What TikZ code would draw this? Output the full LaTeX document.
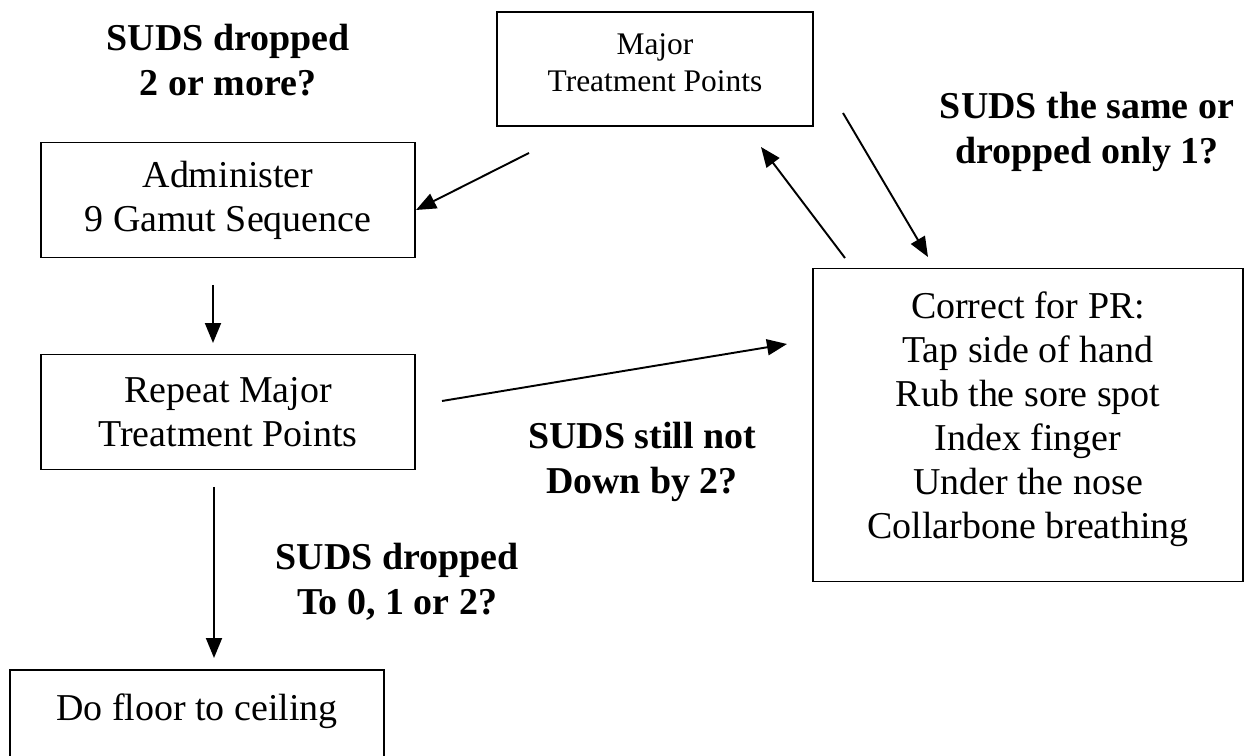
\documentclass[tikz,border=0pt]{standalone}
\usepackage{fontspec}
\setmainfont{Liberation Serif}
\usetikzlibrary{arrows.meta,positioning,calc}

\begin{document}
\begin{tikzpicture}[
    x=0.02cm, y=-0.02cm,
    box/.style={rectangle, draw=black, line width=1pt, align=center, inner sep=0pt, font=\fontsize{21.6pt}{25pt}\selectfont},
    smallbox/.style={box, font=\fontsize{17.9pt}{21pt}\selectfont},
    cond/.style={align=center, inner sep=0pt, font=\bfseries\fontsize{21.6pt}{25.6pt}\selectfont},
    arr/.style={-{Triangle[length=0.4cm, width=0.32cm]}, line width=1.1pt}
]
    \useasboundingbox (0,0) rectangle (1248,756);

    % boxes
    \node [smallbox, minimum width=6.32cm, minimum height=2.28cm, text depth=0.26cm] (major) at (655,69) {Major\\Treatment Points};
    \node [box, minimum width=7.48cm, minimum height=2.3cm] (admin) at (228,200) {Administer\\9 Gamut Sequence};
    \node [box, minimum width=7.48cm, minimum height=2.3cm] (repeat) at (228,412) {Repeat Major\\Treatment Points};
    \node [box, minimum width=7.48cm, minimum height=1.84cm, text depth=0.34cm] (floor) at (197,716) {Do floor to ceiling};
    \node [box, minimum width=8.6cm, minimum height=6.26cm, text depth=0.4cm] (correct) at (1028,425) {Correct for PR:\\Tap side of hand\\Rub the sore spot\\Index finger\\Under the nose\\Collarbone breathing};

    % conditions
    \node [cond] (c1) at (228,60) {SUDS dropped\\2 or more?};
    \node [cond] (c2) at (1087,132) {SUDS the same or\\dropped only 1?};
    \node [cond] (c3) at (642,462) {SUDS still not\\Down by 2?};
    \node [cond] (c4) at (397,582) {SUDS dropped\\To 0, 1 or 2?};

    % arrow ends
    \coordinate (majorL) at (529,153);
    \coordinate (adminR) at (416,210);
    \coordinate (adminB) at (213,285);
    \coordinate (repeatT) at (213,343);
    \coordinate (repeatR) at (442,401);
    \coordinate (correctL) at (787,344);
    \coordinate (repeatB) at (214,487);
    \coordinate (floorT) at (214,658);
    \coordinate (correctT) at (845,258);
    \coordinate (majorB) at (761,147);
    \coordinate (majorR) at (843,113);
    \coordinate (correctN) at (928,257);

    \draw [arr] (majorL) -- (adminR);
    \draw [arr] (adminB) -- (repeatT);
    \draw [arr] (repeatR) -- (correctL);
    \draw [arr] (repeatB) -- (floorT);
    \draw [arr] (correctT) -- (majorB);
    \draw [arr] (majorR) -- (correctN);
\end{tikzpicture}
\end{document}
